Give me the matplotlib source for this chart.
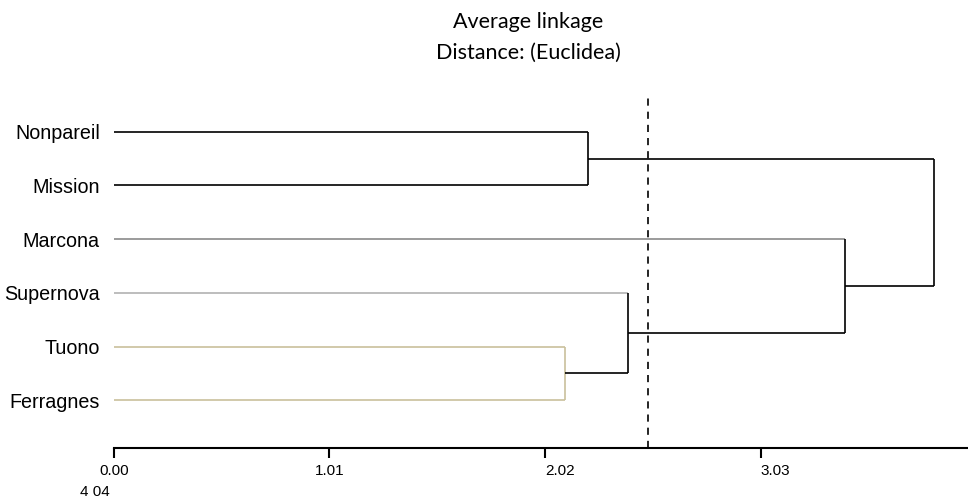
import matplotlib
matplotlib.use("Agg")
import matplotlib.pyplot as plt

# leaves, top to bottom
leaves = ["Nonpareil", "Mission", "Marcona", "Supernova", "Tuono", "Ferragnes"]
leaf_colors = ["#000000", "#000000", "#8a8a8a", "#b2b2b2", "#c9c09c", "#c9c09c"]

# merges like a linkage matrix: (child a, child b, height); new nodes numbered from 6
merges = [
    (4, 5, 2.113),
    (0, 1, 2.219),
    (3, 6, 2.409),
    (2, 8, 3.422),
    (7, 9, 3.840),
]
merge_colors = ["#c9c09c", "#000000", "#000000", "#000000", "#000000"]

cut_height = 2.50
tick_vals = [0.00, 1.01, 2.02, 3.03, 4.04]
tick_labels = ["0.00", "1.01", "2.02", "3.03", ""]

W, H = 968, 498
fig = plt.figure(figsize=(W / 100, H / 100), dpi=100)
ax = fig.add_axes([113.7 / W, (H - 448) / H, 862.9 / W, 358 / H])

n = len(leaves)
node_y = {i: float(i) for i in range(n)}
node_h = {i: 0.0 for i in range(n)}
lw = 1.2

for k, (a, b, h) in enumerate(merges):
    for c in (a, b):
        col = leaf_colors[c] if c < n else "#000000"
        ax.plot([node_h[c], h], [node_y[c], node_y[c]], color=col, lw=lw,
                solid_capstyle="butt")
    ax.plot([h, h], [node_y[a], node_y[b]], color=merge_colors[k], lw=lw,
            solid_capstyle="butt")
    new = n + k
    node_y[new] = (node_y[a] + node_y[b]) / 2
    node_h[new] = h

ax.axvline(cut_height, ymin=0, ymax=0.986, color="black", lw=1.2,
           linestyle=(0, (4.3, 3.6)))

ax.set_xlim(0, 4.04)
ax.set_ylim(5.89, -0.777)

for s in ["top", "right", "left"]:
    ax.spines[s].set_visible(False)
ax.spines["bottom"].set_linewidth(1.5)

ax.set_yticks(range(n))
ax.set_yticklabels(leaves, fontsize=14.2, family="Liberation Sans")
ax.tick_params(axis="y", length=0, pad=10)

ax.set_xticks(tick_vals)
ax.set_xticklabels(tick_labels, fontsize=11, family="Liberation Sans")
ax.tick_params(axis="x", direction="out", length=7.5, width=1.5, pad=4)
for lab in ax.get_xticklabels()[2:4]:
    lab.set_horizontalalignment("left")

# wrapped last tick label as in the original
fig.text(80 / W, 1 - 492 / H, "4 04", fontsize=11, family="Liberation Sans",
         ha="left", va="center")

fig.text(528 / W, 1 - 22 / H, "Average linkage", fontsize=15.5, family="Lato",
         ha="center", va="center")
fig.text(528 / W, 1 - 53 / H, "Distance: (Euclidea)", fontsize=15.5, family="Lato",
         ha="center", va="center")

fig.savefig("out.png", dpi=100)
